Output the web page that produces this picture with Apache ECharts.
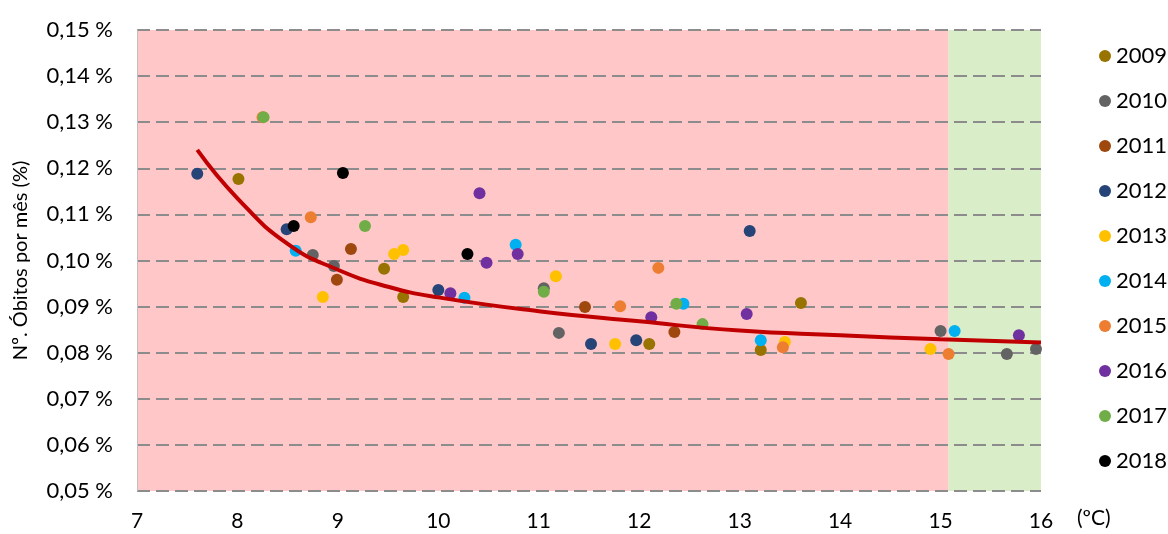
<!DOCTYPE html>
<html>
<head>
<meta charset="utf-8">
<script src="https://cdn.jsdelivr.net/npm/echarts@6/dist/echarts.min.js"></script>
<style>
  html, body { margin: 0; padding: 0; background: #fff; }
  #chart { width: 1168px; height: 534px; }
</style>
</head>
<body>
<div id="chart"></div>
<script>
// anos (legenda)
const years = ['2009', '2010', '2011', '2012', '2013', '2014', '2015', '2016', '2017', '2018']
const yearColors = ['#997300', '#636363', '#9E480E', '#264478', '#FFC000', '#00B0F0', '#ED7D31', '#7030A0', '#70AD47', '#000000']

// [temperatura ºC, óbitos por mês %]
const pts2009 = [[8.01, 0.1177], [9.46, 0.0982], [9.65, 0.0921], [12.10, 0.0819], [13.21, 0.0806], [13.61, 0.0908]]
const pts2010 = [[8.75, 0.1012], [8.96, 0.0988], [11.05, 0.0940], [11.20, 0.0843], [15.00, 0.0847], [15.66, 0.0797], [15.95, 0.0808]]
const pts2011 = [[8.99, 0.0958], [9.13, 0.1025], [11.46, 0.0899], [12.35, 0.0845]]
const pts2012 = [[7.60, 0.1188], [8.49, 0.1068], [10.00, 0.0936], [11.52, 0.0819], [11.97, 0.0827], [13.10, 0.1064]]
const pts2013 = [[8.85, 0.0921], [9.56, 0.1014], [9.65, 0.1023], [11.17, 0.0966], [11.76, 0.0819], [13.45, 0.0823], [14.90, 0.0808]]
const pts2014 = [[8.58, 0.1021], [10.26, 0.0919], [10.77, 0.1034], [12.44, 0.0906], [13.21, 0.0827], [15.14, 0.0847]]
const pts2015 = [[8.25, 0.1311], [8.73, 0.1094], [11.81, 0.0901], [12.19, 0.0984], [13.43, 0.0812], [15.08, 0.0797]]
const pts2016 = [[10.12, 0.0929], [10.41, 0.1146], [10.48, 0.0995], [10.79, 0.1014], [12.12, 0.0877], [13.07, 0.0884], [15.78, 0.0838]]
const pts2017 = [[8.26, 0.1311], [9.27, 0.1075], [11.05, 0.0932], [12.37, 0.0906], [12.63, 0.0862]]
const pts2018 = [[8.56, 0.1075], [9.05, 0.1190], [10.29, 0.1014]]
const yearPoints = [pts2009, pts2010, pts2011, pts2012, pts2013, pts2014, pts2015, pts2016, pts2017, pts2018]

// linha de tendência
const trendX = [7.6, 8.0, 8.5, 9.0, 9.5, 10.0, 11.0, 12.0, 13.0, 14.0, 15.0, 16.0]
const trendY = [0.1240, 0.1135, 0.1036, 0.0980, 0.0943, 0.0920, 0.0890, 0.0868, 0.0848, 0.0838, 0.0829, 0.0822]

// zonas de fundo
const xMin = 7
const xMax = 16
const coldLimit = 15.08

const font = 'Lato, "Liberation Sans", sans-serif'
const myChart = echarts.init(document.getElementById('chart'))

const series = [
  {
    type: 'scatter',
    name: 'zonas',
    data: [],
    z: 0,
    silent: true,
    markArea: {
      silent: true,
      z: 0,
      data: [
        [{ xAxis: xMin, itemStyle: { color: '#FFC7C7' } }, { xAxis: coldLimit }],
        [{ xAxis: coldLimit, itemStyle: { color: '#D9EEC8' } }, { xAxis: xMax }]
      ]
    }
  },
  ...years.map((y, i) => ({
    type: 'scatter',
    name: y,
    data: yearPoints[i],
    symbolSize: 12,
    z: 3,
    itemStyle: { color: yearColors[i], opacity: 1 }
  })),
  {
    type: 'line',
    name: 'tendência',
    data: trendX.map((x, i) => [x, trendY[i]]),
    smooth: 0.5,
    showSymbol: false,
    z: 4,
    lineStyle: { color: '#C00000', width: 4 },
    itemStyle: { color: '#C00000' }
  }
]

const option = {
  animation: false,
  backgroundColor: '#fff',
  textStyle: { fontFamily: font },
  grid: { left: 137, right: 127, top: 30, bottom: 43 },
  legend: {
    data: years,
    orient: 'vertical',
    left: 1094,
    top: 40,
    icon: 'circle',
    itemWidth: 12,
    itemHeight: 12,
    itemGap: 23,
    textStyle: { fontSize: 22, color: '#000', fontFamily: font }
  },
  xAxis: {
    type: 'value',
    min: xMin,
    max: xMax,
    interval: 1,
    z: 2,
    name: '(ºC)',
    nameLocation: 'end',
    nameGap: 36,
    nameTextStyle: { fontSize: 21, color: '#000', verticalAlign: 'top', padding: [17, 0, 0, 0] },
    axisLine: { show: false },
    axisTick: { show: false },
    splitLine: { show: false },
    axisLabel: { fontSize: 21, color: '#000', margin: 20 }
  },
  yAxis: {
    type: 'value',
    min: 0.05,
    max: 0.15,
    interval: 0.01,
    z: 2,
    name: 'Nº. Óbitos por mês (%)',
    nameLocation: 'middle',
    nameGap: 106,
    nameTextStyle: { fontSize: 20, color: '#000' },
    axisLine: { show: true, lineStyle: { color: '#BFBFBF', width: 1 } },
    axisTick: { show: false },
    axisLabel: {
      fontSize: 22,
      color: '#000',
      margin: 24,
      formatter: v => v.toFixed(2).replace('.', ',') + ' %'
    },
    splitLine: {
      show: true,
      lineStyle: { color: '#8C8C8C', width: 2, type: [13, 6] }
    }
  },
  series
}

myChart.setOption(option)
</script>
</body>
</html>
